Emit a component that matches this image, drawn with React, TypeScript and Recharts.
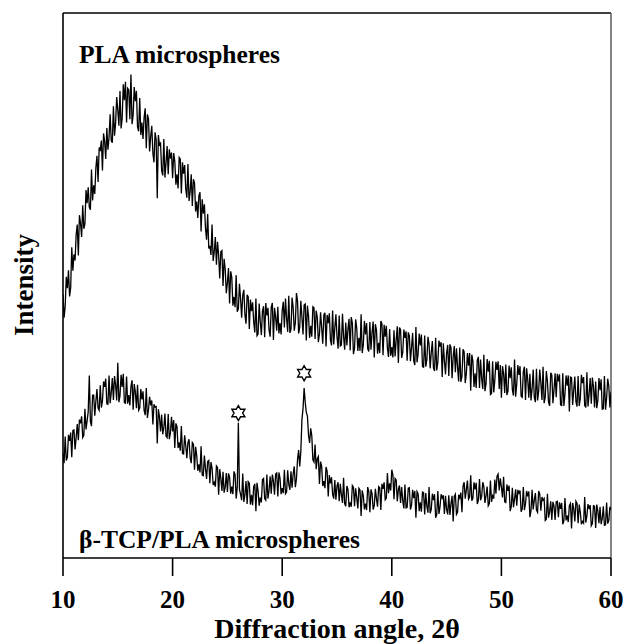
import React from "react";
import { ComposedChart, Line, Scatter, XAxis, YAxis, ReferenceLine } from "recharts";

// Scan grid: 10° to 60° 2θ, step 0.1°
const ANGLES: number[] = Array.from({ length: 501 }, (_, i) => Math.round((10 + i * 0.1) * 10) / 10);

const X_TICKS = [10, 20, 30, 40, 50, 60];

// PLA microspheres (upper pattern), arbitrary intensity units; one row per degree
const PLA_INTENSITY = [
  48.4, 44.1, 46.2, 51.6, 49.5, 52.8, 48.0, 49.6, 57.0, 52.7,
  55.7, 54.6, 59.3, 61.2, 55.5, 62.9, 61.4, 58.9, 64.7, 60.4,
  61.3, 67.5, 65.1, 68.0, 64.4, 63.9, 71.3, 65.6, 68.4, 66.8,
  71.6, 73.8, 69.0, 75.3, 74.9, 76.6, 71.1, 77.9, 76.4, 73.2,
  78.9, 74.9, 77.2, 81.4, 76.6, 76.2, 82.9, 77.5, 79.8, 84.6,
  82.2, 79.3, 85.7, 78.8, 80.7, 86.9, 84.0, 87.4, 79.9, 86.2,
  85.9, 80.5, 88.7, 79.6, 81.3, 86.4, 83.8, 85.7, 79.1, 78.3,
  84.4, 77.6, 79.9, 76.9, 80.8, 82.5, 75.2, 81.4, 80.6, 74.6,
  77.3, 79.3, 74.3, 72.6, 78.1, 76.8, 66.0, 77.6, 75.8, 76.1,
  71.1, 70.2, 76.9, 69.8, 72.5, 75.6, 70.4, 75.0, 73.3, 74.4,
  69.7, 74.3, 72.8, 68.5, 70.4, 67.8, 73.5, 73.2, 66.9, 72.6,
  70.5, 72.1, 67.7, 66.1, 72.3, 65.5, 67.2, 70.4, 64.6, 69.5,
  68.8, 63.6, 65.4, 62.4, 66.5, 67.1, 59.9, 65.8, 63.2, 64.9,
  60.5, 58.4, 63.1, 56.8, 57.3, 55.6, 61.2, 54.5, 56.2, 58.9,
  53.8, 58.0, 55.6, 51.3, 56.2, 56.4, 49.9, 54.9, 53.0, 48.6,
  50.5, 53.2, 46.7, 52.6, 51.5, 46.3, 47.9, 46.0, 51.9, 45.2,
  45.7, 50.3, 47.6, 44.1, 48.2, 49.2, 44.6, 43.0, 48.3, 47.9,
  42.0, 47.4, 45.3, 46.9, 43.3, 41.4, 47.6, 40.8, 41.1, 46.7,
  43.3, 40.9, 45.3, 46.2, 40.5, 46.8, 44.5, 45.9, 41.8, 40.6,
  46.0, 46.8, 40.0, 45.9, 44.2, 41.7, 46.1, 41.2, 43.1, 41.0,
  45.4, 47.0, 42.3, 47.6, 44.0, 41.5, 48.1, 41.3, 41.9, 47.8,
  46.0, 41.7, 43.2, 48.6, 47.1, 41.2, 42.3, 47.2, 44.2, 41.0,
  46.4, 46.6, 39.9, 46.3, 44.4, 40.4, 42.6, 40.6, 46.1, 45.9,
  40.2, 45.4, 44.2, 39.6, 41.1, 45.1, 42.2, 39.3, 44.6, 45.0,
  38.8, 44.6, 43.1, 44.9, 40.0, 39.0, 45.4, 39.2, 42.2, 44.7,
  40.6, 38.4, 44.5, 38.9, 39.1, 44.8, 40.6, 38.2, 43.2, 39.0,
  42.0, 43.9, 38.1, 44.2, 43.1, 37.4, 38.5, 43.8, 42.2, 38.0,
  40.4, 38.0, 44.7, 37.6, 39.1, 43.5, 41.0, 43.1, 38.4, 37.9,
  43.3, 38.2, 41.4, 43.4, 36.8, 42.9, 41.8, 37.5, 39.5, 37.6,
  43.5, 43.0, 37.2, 42.8, 40.6, 42.6, 38.5, 36.9, 42.0, 37.1,
  38.7, 36.8, 41.8, 37.0, 40.0, 42.5, 35.8, 42.3, 41.9, 36.7,
  37.7, 41.9, 40.4, 41.6, 36.2, 41.4, 40.8, 36.1, 38.6, 41.3,
  36.2, 35.4, 42.4, 35.9, 37.5, 41.2, 39.0, 41.0, 35.1, 35.0,
  40.8, 35.1, 36.4, 40.6, 39.2, 34.8, 37.7, 39.8, 34.9, 34.3,
  40.4, 34.4, 35.9, 39.9, 38.8, 39.6, 33.2, 39.4, 36.2, 33.7,
  37.6, 39.1, 33.4, 39.2, 38.6, 33.0, 36.9, 38.9, 34.1, 38.5,
  35.0, 32.4, 38.6, 32.3, 33.3, 38.3, 37.8, 32.1, 33.8, 37.6,
  35.3, 37.6, 30.7, 37.3, 36.1, 31.4, 33.9, 31.2, 36.3, 36.9,
  31.2, 36.4, 32.9, 31.0, 37.3, 30.6, 32.0, 36.5, 34.2, 36.2,
  30.0, 30.2, 36.1, 30.4, 32.6, 36.0, 34.5, 36.1, 31.0, 35.4,
  29.4, 35.2, 33.8, 30.3, 35.5, 29.9, 30.6, 35.3, 33.0, 35.0,
  30.9, 29.8, 36.4, 29.6, 31.9, 35.4, 33.6, 35.2, 29.7, 29.5,
  34.2, 35.1, 29.0, 34.8, 32.8, 29.4, 33.8, 28.9, 31.0, 34.6,
  29.5, 28.6, 34.7, 28.9, 30.6, 34.6, 32.1, 29.0, 35.1, 28.4,
  29.5, 34.3, 32.4, 28.6, 27.9, 34.0, 33.6, 28.4, 30.9, 33.9,
  29.5, 33.8, 32.4, 33.7, 28.1, 28.0, 33.9, 27.9, 30.1, 33.5,
  31.6, 33.5, 26.9, 33.2, 33.1, 28.1, 30.8, 33.3, 28.7, 27.8,
  33.4, 27.9, 29.3, 33.6, 32.1, 33.2, 28.0, 27.6, 34.1, 27.8,
  30.0, 33.0, 28.3, 33.1, 31.4, 27.6, 32.4, 27.5, 28.9, 33.0,
  30.8, 32.8, 27.3, 27.4, 33.4, 27.2, 29.3, 32.9, 31.5, 27.6,
  30.5,
];

// β-TCP/PLA microspheres (lower pattern); one row per degree
const TCP_INTENSITY = [
  19.2, 17.4, 22.3, 17.9, 18.5, 22.6, 21.5, 23.0, 18.5, 23.4,
  23.5, 19.9, 22.1, 24.6, 21.6, 25.4, 24.7, 26.0, 22.1, 22.5,
  27.4, 23.6, 25.2, 26.8, 33.5, 25.0, 24.2, 29.9, 29.9, 26.1,
  28.8, 31.0, 27.5, 27.1, 31.7, 27.6, 28.8, 32.4, 31.4, 32.9,
  28.3, 28.2, 33.5, 28.4, 30.3, 33.0, 29.0, 33.4, 31.7, 28.9,
  35.8, 28.6, 29.8, 33.6, 31.4, 33.8, 28.5, 28.4, 33.3, 28.3,
  29.9, 28.0, 31.5, 32.6, 27.2, 31.9, 30.5, 27.5, 31.8, 27.1,
  27.5, 31.0, 29.1, 30.6, 27.1, 26.2, 31.2, 25.7, 27.2, 29.6,
  28.0, 28.9, 24.5, 28.2, 27.7, 27.8, 21.0, 27.3, 25.9, 23.2,
  26.3, 22.7, 23.9, 26.5, 22.4, 22.1, 26.4, 21.8, 22.9, 25.9,
  23.2, 25.3, 20.2, 24.7, 24.1, 20.2, 21.2, 19.7, 24.2, 19.2,
  19.1, 22.5, 20.6, 18.3, 21.2, 21.8, 18.4, 17.4, 21.2, 20.9,
  16.2, 20.4, 18.8, 16.0, 17.2, 15.7, 20.5, 15.2, 15.1, 18.8,
  16.4, 14.5, 17.7, 17.9, 13.7, 17.6, 16.5, 13.4, 13.9, 13.1,
  16.9, 16.6, 11.6, 16.3, 14.6, 12.3, 15.8, 12.0, 13.0, 15.6,
  12.1, 15.5, 14.8, 11.8, 13.1, 11.7, 15.9, 15.3, 10.9, 13.0,
  24.8, 12.6, 11.7, 10.6, 15.5, 10.3, 11.6, 14.1, 9.9, 14.0,
  13.7, 9.8, 11.6, 9.7, 13.1, 13.6, 8.6, 13.8, 12.3, 9.6,
  11.1, 10.2, 14.4, 14.6, 10.9, 10.6, 15.3, 10.9, 12.4, 15.0,
  11.8, 15.3, 14.1, 11.6, 15.4, 15.6, 11.3, 15.7, 14.6, 11.7,
  12.8, 11.9, 16.2, 11.8, 12.1, 16.1, 13.5, 12.5, 15.9, 12.9,
  15.4, 16.8, 13.0, 14.5, 18.1, 19.8, 16.8, 19.6, 25.4, 27.4,
  31.2, 28.6, 26.7, 26.1, 22.6, 21.1, 23.8, 22.4, 18.0, 17.6,
  20.8, 16.3, 18.2, 18.6, 13.6, 17.7, 16.8, 13.2, 14.1, 12.8,
  16.7, 15.9, 11.3, 15.2, 13.7, 14.8, 11.7, 10.9, 14.3, 10.7,
  13.2, 13.9, 10.4, 13.6, 11.6, 10.1, 14.7, 10.0, 9.5, 13.2,
  12.6, 9.3, 10.2, 9.4, 13.3, 13.0, 9.5, 12.8, 11.1, 9.1,
  12.8, 12.5, 7.7, 12.4, 11.4, 8.9, 10.0, 8.8, 13.0, 12.2,
  8.4, 12.6, 11.8, 8.9, 9.6, 12.7, 10.9, 9.4, 13.1, 12.9,
  8.8, 13.6, 12.7, 13.9, 10.7, 11.0, 15.6, 11.9, 13.7, 12.4,
  16.2, 15.2, 10.8, 14.6, 14.3, 10.4, 12.6, 13.3, 10.1, 13.0,
  10.5, 9.1, 13.5, 9.2, 9.3, 12.8, 12.9, 8.9, 9.7, 12.5,
  11.0, 12.3, 7.4, 12.2, 11.8, 8.6, 10.2, 8.5, 12.1, 12.0,
  8.0, 11.9, 9.5, 8.3, 13.0, 8.2, 8.9, 11.8, 10.6, 11.7,
  7.4, 8.0, 12.3, 8.1, 9.4, 11.7, 11.0, 11.5, 8.1, 11.4,
  8.9, 8.0, 11.5, 7.9, 10.0, 11.4, 6.7, 11.3, 11.7, 8.0,
  8.4, 11.6, 11.0, 12.0, 8.4, 13.2, 13.9, 10.9, 12.5, 14.2,
  10.8, 11.2, 15.2, 10.5, 11.0, 13.9, 12.6, 13.8, 9.9, 10.6,
  14.5, 10.6, 11.3, 13.9, 13.1, 10.1, 11.5, 13.1, 9.6, 10.0,
  14.2, 10.3, 11.4, 10.9, 14.4, 11.8, 15.0, 15.4, 12.4, 14.6,
  13.0, 11.1, 14.9, 10.3, 10.2, 13.5, 12.3, 13.3, 8.6, 9.4,
  12.9, 9.3, 10.8, 12.6, 9.6, 12.5, 11.9, 12.4, 8.5, 9.0,
  13.0, 8.8, 10.0, 12.3, 11.3, 12.2, 7.5, 8.7, 12.5, 8.9,
  10.6, 11.9, 8.8, 8.4, 12.3, 11.7, 8.7, 11.2, 10.6, 10.9,
  6.9, 7.1, 11.8, 7.4, 8.5, 10.4, 7.0, 10.3, 9.5, 7.0,
  10.3, 10.4, 7.5, 10.2, 9.0, 10.1, 6.2, 6.8, 11.0, 6.9,
  7.8, 6.6, 9.6, 10.0, 5.4, 10.1, 9.0, 6.7, 10.4, 10.0,
  6.4, 9.8, 8.4, 6.2, 6.7, 6.4, 11.2, 6.5, 7.7, 9.9,
  9.0, 9.7, 5.9, 6.3, 9.6, 9.5, 5.5, 9.8, 8.6, 6.4,
  9.4, 6.2, 7.2, 9.5, 6.0, 6.1, 10.2, 6.3, 6.9, 9.4,
  8.8,
];

// β-TCP reflections marked with stars
const STAR_ANGLES = [26.0, 32.0];
const STAR_INTENSITY = [26.6, 33.9];

const plaData = ANGLES.map((a, i) => ({ angle: a, intensity: PLA_INTENSITY[i] }));
const tcpData = ANGLES.map((a, i) => ({ angle: a, intensity: TCP_INTENSITY[i] }));
const starData = STAR_ANGLES.map((a, i) => ({ angle: a, intensity: STAR_INTENSITY[i] }));

const FONT = "'Liberation Serif', 'Times New Roman', 'DejaVu Serif', serif";

const Hexagram = (props: any) => {
  const { cx, cy } = props;
  if (cx == null || cy == null) return null;
  const R = 7.5;
  const r = R / Math.sqrt(3);
  const pts: string[] = [];
  for (let k = 0; k < 12; k++) {
    const ang = ((-90 + k * 30) * Math.PI) / 180;
    const rad = k % 2 === 0 ? R : r;
    pts.push(`${cx + rad * Math.cos(ang)},${cy + rad * Math.sin(ang)}`);
  }
  return <polygon points={pts.join(" ")} fill="#fff" stroke="#000" strokeWidth={1.4} />;
};

export default function App() {
  return (
    <div style={{ position: "absolute", left: 0, top: 0, width: 625, height: 644, background: "#fff" }}>
      <ComposedChart width={625} height={644} margin={{ top: 13, right: 14, bottom: 0, left: 0 }}>
        <XAxis
          dataKey="angle"
          type="number"
          domain={[10, 60]}
          ticks={X_TICKS}
          allowDataOverflow
          height={86}
          tickSize={18}
          tickMargin={14}
          axisLine={{ stroke: "#000", strokeWidth: 1.6 }}
          tickLine={{ stroke: "#000", strokeWidth: 1.6 }}
          tick={{ fill: "#000", fontSize: 25, fontWeight: "bold", fontFamily: FONT }}
          label={{
            value: "Diffraction angle, 2θ",
            position: "insideBottom",
            offset: 6,
            fill: "#000",
            fontSize: 28,
            fontWeight: "bold",
            fontFamily: FONT,
          }}
        />
        <YAxis
          type="number"
          domain={[0, 100]}
          allowDataOverflow
          width={63}
          tick={false}
          tickLine={false}
          axisLine={{ stroke: "#000", strokeWidth: 1.6 }}
        />
        <ReferenceLine y={100} stroke="#000" strokeWidth={1.6} />
        <ReferenceLine x={60} stroke="#666" strokeWidth={1.6} />
        <Line
          data={plaData}
          dataKey="intensity"
          type="linear"
          stroke="#000"
          strokeWidth={1.3}
          dot={false}
          isAnimationActive={false}
        />
        <Line
          data={tcpData}
          dataKey="intensity"
          type="linear"
          stroke="#000"
          strokeWidth={1.3}
          dot={false}
          isAnimationActive={false}
        />
        <Scatter data={starData} dataKey="intensity" shape={<Hexagram />} isAnimationActive={false} />
        <text x={79} y={63} fontFamily={FONT} fontWeight="bold" fontSize={25.5} fill="#000">
          PLA microspheres
        </text>
        <text x={79} y={548} fontFamily={FONT} fontWeight="bold" fontSize={25.5} fill="#000">
          β-TCP/PLA microspheres
        </text>
        <text
          x={24}
          y={285}
          transform="rotate(-90 24 285)"
          textAnchor="middle"
          dominantBaseline="central"
          fontFamily={FONT}
          fontWeight="bold"
          fontSize={27}
          fill="#000"
        >
          Intensity
        </text>
      </ComposedChart>
    </div>
  );
}
